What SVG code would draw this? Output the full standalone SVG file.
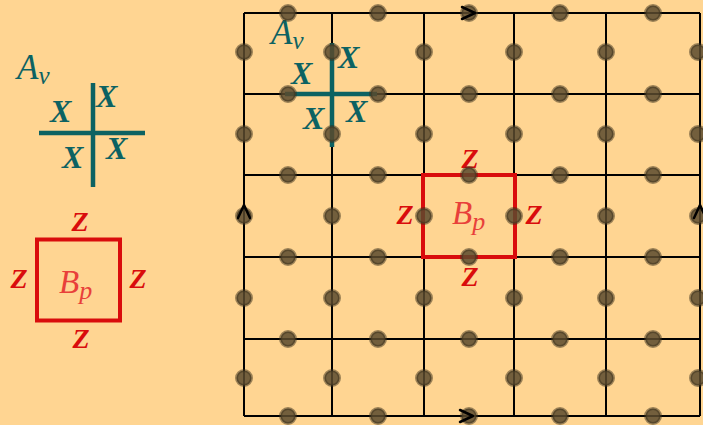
<svg xmlns="http://www.w3.org/2000/svg" xmlns:xlink="http://www.w3.org/1999/xlink" width="703" height="425" viewBox="0 0 703 425">
<style>
.grid{stroke:#000;stroke-width:2;fill:none}
.teal{stroke:#0c6262;stroke-width:4.5;fill:none}
.redsq{stroke:#d90c0c;stroke-width:4;fill:none}
.x{font-family:"Liberation Serif",serif;font-style:italic;font-weight:bold;font-size:32px;fill:#0c6262}
.av{font-family:"Liberation Serif",serif;font-style:italic;font-size:35px;fill:#0c6262}
.avs{font-size:25px}
.z{font-family:"Liberation Serif",serif;font-style:italic;font-weight:bold;font-size:28px;fill:#d90c0c;text-anchor:middle}
.bp{font-family:"Liberation Serif",serif;font-style:italic;font-size:33px;fill:#e8403a}
.bps{font-size:26px}
.arr{stroke:#000;stroke-width:2.5;fill:none;stroke-linecap:round;stroke-linejoin:round}
</style>
<defs>
<circle id="dot" r="7.5" fill="#5a4a2e" fill-opacity="0.85" stroke="#3a2f1c" stroke-opacity="0.5" stroke-width="3"/>
</defs>
<rect width="703" height="425" fill="#FFD592"/>

<g id="legend-av">
<text class="av" x="17" y="79">A<tspan class="avs" dy="5">ν</tspan></text>
<path class="teal" d="M93 83V187M39 133H145"/>
<text class="x" x="50" y="122">X</text>
<text class="x" x="96" y="107">X</text>
<text class="x" x="62" y="168">X</text>
<text class="x" x="106" y="159">X</text>
</g>

<g id="legend-bp">
<rect class="redsq" x="37" y="239.5" width="83" height="81"/>
<text class="z" x="80" y="231">Z</text>
<text class="z" x="19" y="288">Z</text>
<text class="z" x="138" y="288">Z</text>
<text class="z" x="81" y="348">Z</text>
<text class="bp" x="59" y="293">B<tspan class="bps" dy="6">p</tspan></text>
</g>

<g id="connectors">
<path class="grid" d="M244 13V416M332 13V416M424 13V416M514 13V416M606 13V416M700 13V416M244 13H700M244 94H700M244 175H700M244 257H700M244 339H700M244 416H700"/>
</g>

<g id="grid-av">
<path class="teal" d="M332 43V147M285 94H377"/>
<text class="av" x="271" y="44">A<tspan class="avs" dy="5">ν</tspan></text>
<text class="x" x="338" y="68">X</text>
<text class="x" x="291" y="84">X</text>
<text class="x" x="303" y="129">X</text>
<text class="x" x="346" y="122">X</text>
</g>

<g id="grid-bp">
<rect class="redsq" x="423" y="175" width="92" height="82"/>
<text class="z" x="470" y="168">Z</text>
<text class="z" x="405" y="224">Z</text>
<text class="z" x="534" y="224">Z</text>
<text class="z" x="470" y="286">Z</text>
<text class="bp" x="452" y="224">B<tspan class="bps" dy="6">p</tspan></text>
</g>

<g id="dots">
<use xlink:href="#dot" x="288" y="13"/><use xlink:href="#dot" x="378" y="13"/><use xlink:href="#dot" x="469" y="13"/><use xlink:href="#dot" x="560" y="13"/><use xlink:href="#dot" x="653" y="13"/>
<use xlink:href="#dot" x="288" y="94"/><use xlink:href="#dot" x="378" y="94"/><use xlink:href="#dot" x="469" y="94"/><use xlink:href="#dot" x="560" y="94"/><use xlink:href="#dot" x="653" y="94"/>
<use xlink:href="#dot" x="288" y="175"/><use xlink:href="#dot" x="378" y="175"/><use xlink:href="#dot" x="469" y="175"/><use xlink:href="#dot" x="560" y="175"/><use xlink:href="#dot" x="653" y="175"/>
<use xlink:href="#dot" x="288" y="257"/><use xlink:href="#dot" x="378" y="257"/><use xlink:href="#dot" x="469" y="257"/><use xlink:href="#dot" x="560" y="257"/><use xlink:href="#dot" x="653" y="257"/>
<use xlink:href="#dot" x="288" y="339"/><use xlink:href="#dot" x="378" y="339"/><use xlink:href="#dot" x="469" y="339"/><use xlink:href="#dot" x="560" y="339"/><use xlink:href="#dot" x="653" y="339"/>
<use xlink:href="#dot" x="288" y="416"/><use xlink:href="#dot" x="378" y="416"/><use xlink:href="#dot" x="469" y="416"/><use xlink:href="#dot" x="560" y="416"/><use xlink:href="#dot" x="653" y="416"/>
<use xlink:href="#dot" x="244" y="52"/><use xlink:href="#dot" x="332" y="52"/><use xlink:href="#dot" x="424" y="52"/><use xlink:href="#dot" x="514" y="52"/><use xlink:href="#dot" x="606" y="52"/><use xlink:href="#dot" x="698" y="52"/>
<use xlink:href="#dot" x="244" y="134"/><use xlink:href="#dot" x="332" y="134"/><use xlink:href="#dot" x="424" y="134"/><use xlink:href="#dot" x="514" y="134"/><use xlink:href="#dot" x="606" y="134"/><use xlink:href="#dot" x="698" y="134"/>
<use xlink:href="#dot" x="244" y="216"/><use xlink:href="#dot" x="332" y="216"/><use xlink:href="#dot" x="424" y="216"/><use xlink:href="#dot" x="514" y="216"/><use xlink:href="#dot" x="606" y="216"/><use xlink:href="#dot" x="698" y="216"/>
<use xlink:href="#dot" x="244" y="298"/><use xlink:href="#dot" x="332" y="298"/><use xlink:href="#dot" x="424" y="298"/><use xlink:href="#dot" x="514" y="298"/><use xlink:href="#dot" x="606" y="298"/><use xlink:href="#dot" x="698" y="298"/>
<use xlink:href="#dot" x="244" y="378"/><use xlink:href="#dot" x="332" y="378"/><use xlink:href="#dot" x="424" y="378"/><use xlink:href="#dot" x="514" y="378"/><use xlink:href="#dot" x="606" y="378"/><use xlink:href="#dot" x="698" y="378"/>
</g>

<g id="arrows">
<path class="arr" d="M462 7L475 13L462 19"/>
<path class="arr" d="M460 410L473 416L460 422"/>
<path class="arr" d="M238 218L244 205L250 218"/>
<path class="arr" d="M694 218L700 205L706 218"/>
</g>
</svg>
